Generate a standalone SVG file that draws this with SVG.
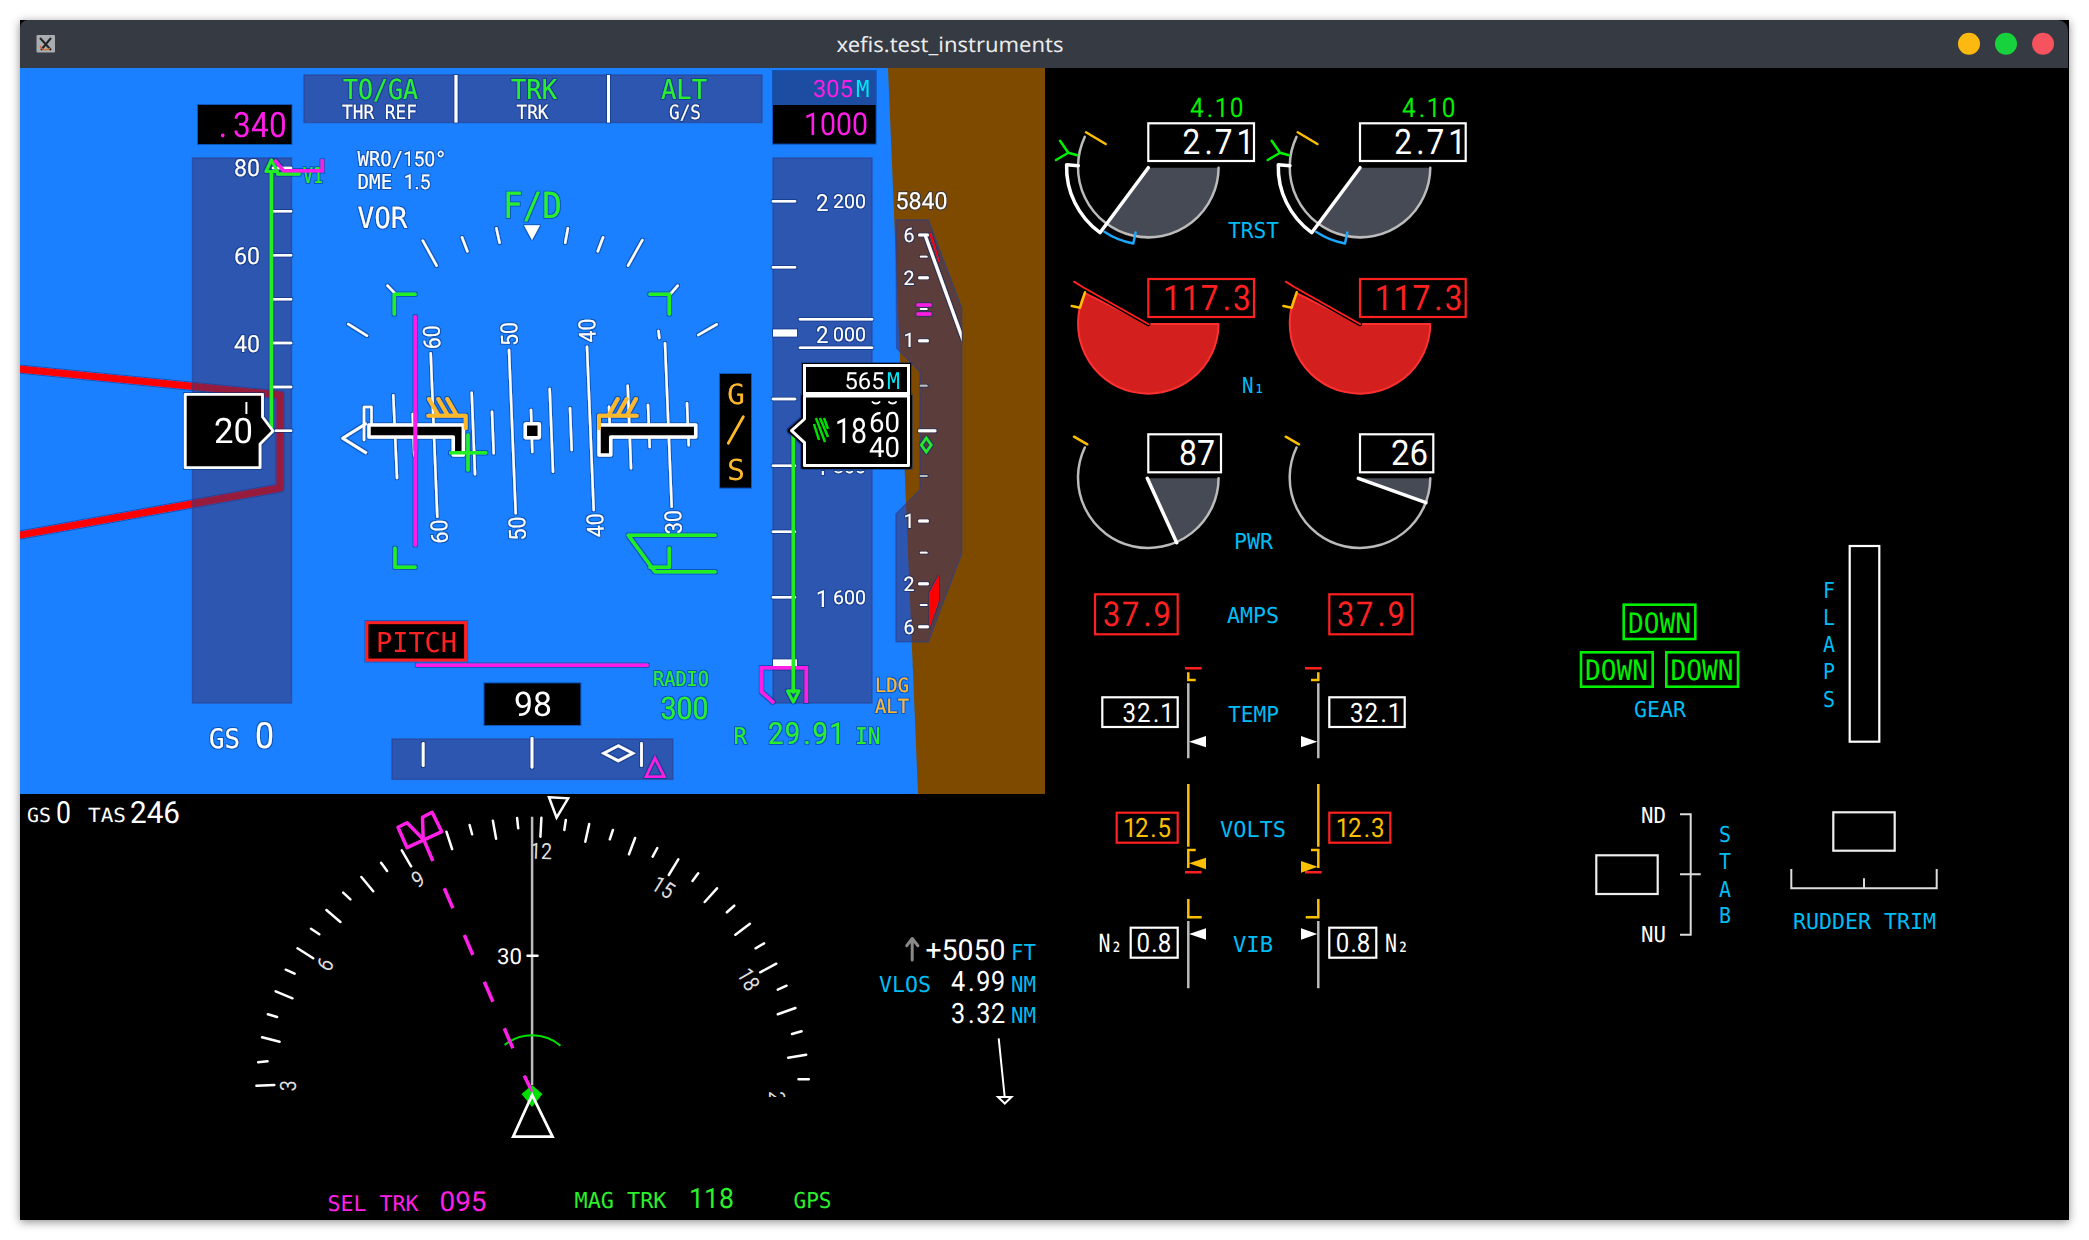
<svg xmlns="http://www.w3.org/2000/svg" width="2089" height="1240" viewBox="0 0 2089 1240">
<defs>
<style>
svg{font-family:"DejaVu Sans Mono","Liberation Mono",monospace}
text{text-rendering:geometricPrecision}
.n{font-family:Roboto,"Noto Sans",sans-serif}
.w{fill:#fff}.g{fill:#2bf02b}.gb{fill:#00f000}.m{fill:#ff1fe6}.c{fill:#00bdf5}.cy{fill:#00e5f5}.a{fill:#fdb92b}.y{fill:#fdc000}.r{fill:#ff2020}
.l{fill:none;stroke-linecap:round;stroke-linejoin:round}
.lw{stroke:#fff;stroke-width:2.5}.lg{stroke:#22ee22;stroke-width:3.5}.lm{stroke:#ff1fe6;stroke-width:3.5}.la{stroke:#fdb92b;stroke-width:4}
.bw{fill:#000;stroke:#fff;stroke-width:2.2}.br{fill:#000;stroke:#ff2020;stroke-width:2.2}.bg{fill:#000;stroke:#00f000;stroke-width:2.6}
.sq{stroke-linecap:butt;stroke-linejoin:miter}
.gy{stroke:#bbb;stroke-width:2.5}.am{stroke:#fdc000;stroke-width:2.5}.rd{stroke:#ff2020;stroke-width:2.5}
.tape{fill:#3e326e;fill-opacity:.54;stroke:#2a3f90;stroke-opacity:.6;stroke-width:1.5}
</style>
<filter id="shadow" x="-3%" y="-3%" width="106%" height="106%"><feGaussianBlur stdDeviation="5"/></filter>
<filter id="halo" filterUnits="userSpaceOnUse" x="20" y="68" width="1025" height="726">
<feMorphology in="SourceAlpha" operator="dilate" radius="1" result="d"/>
<feFlood flood-color="#0a2a70" flood-opacity=".5"/>
<feComposite in2="d" operator="in" result="e"/>
<feMerge><feMergeNode in="e"/><feMergeNode in="SourceGraphic"/></feMerge>
</filter>
<clipPath id="adi"><rect x="20" y="68" width="1025" height="726"/></clipPath>
<clipPath id="vsi"><rect x="890" y="215" width="71.7" height="430"/></clipPath>
<clipPath id="c21"><rect x="760" y="1080" width="40" height="17"/></clipPath>
<clipPath id="c30"><rect x="655" y="500" width="40" height="33.5"/></clipPath>
<clipPath id="c18"><rect x="810" y="471" width="62" height="6"/></clipPath>
</defs>

<g id="window">
<rect x="20" y="22" width="2049" height="1200" fill="#000" fill-opacity=".45" filter="url(#shadow)"/>
<rect x="20" y="20" width="2049" height="1200" fill="#000"/>
<path d="M20 68V28a8 8 0 0 1 8-8H2058a10 10 0 0 1 10 10V68Z" fill="#363a42"/>
<rect x="36.5" y="35" width="18.5" height="17.5" rx="1" fill="#a9acb0"/>
<path d="M40 38L51 50M51 38L41 50" stroke="#222" stroke-width="2" fill="none"/>
<path d="M40 46a6 6 0 0 0 10 2" stroke="#d9662a" stroke-width="1.2" fill="none"/>
<text x="836.5" y="52" style="font-family:'Noto Sans',sans-serif" font-size="21" fill="#e9eaec" textLength="227" lengthAdjust="spacingAndGlyphs">xefis.test_instruments</text>
<circle cx="1969" cy="43.7" r="11" fill="#fdb90f"/><circle cx="2006" cy="43.7" r="11" fill="#17d13d"/><circle cx="2043" cy="43.7" r="11" fill="#f7535f"/>
</g>

<g id="adi-background">
<rect x="20" y="68" width="1025" height="726" fill="#1a80ff"/>
<path d="M888 68H1045V794H918Z" fill="#7d4a00"/>
<g filter="url(#halo)" clip-path="url(#adi)"><path d="M15 368.500L280 395V488L15 536" class="l" stroke="#ff0000" stroke-width="7"/></g>
<rect class="tape" x="192.500" y="158" width="99" height="545"/>
<rect class="tape" x="773" y="158" width="99" height="545"/>
<rect class="tape" x="304" y="75" width="458" height="47.500"/>
<rect class="tape" x="392" y="739" width="280.800" height="40.300"/>
<path class="tape" d="M896 220H928.300L961.700 308.300V553.300L928.300 641.700H896V514L920 490V371.700L896.700 348.300Z"/>
</g>

<g filter="url(#halo)" clip-path="url(#adi)">
<g id="fma">
<path class="l sq" d="M456 75V122.500M608.500 75V122.500" stroke="#fff" stroke-width="3"/>
<text class="g" x="343" y="99" font-size="27.500" textLength="75" lengthAdjust="spacingAndGlyphs">TO/GA</text>
<text class="g" x="511" y="99" font-size="27.500" textLength="46" lengthAdjust="spacingAndGlyphs">TRK</text>
<text class="g" x="661" y="99" font-size="27.500" textLength="46" lengthAdjust="spacingAndGlyphs">ALT</text>
<text class="w" x="342" y="119" font-size="19.500" textLength="75" lengthAdjust="spacingAndGlyphs">THR REF</text>
<text class="w" x="516.500" y="119" font-size="19.500" textLength="32" lengthAdjust="spacingAndGlyphs">TRK</text>
<text class="w" x="669" y="119" font-size="19.500" textLength="32" lengthAdjust="spacingAndGlyphs">G/S</text>
</g>
<g id="mach"><rect x="198" y="105" width="93.500" height="39" fill="#000"/>
<text class="m n" transform="translate(233 136.700) scale(.9 1)" font-size="35" x="-15.800 0 20 40">.340</text></g>

<g id="nav-info">
<text class="w" x="357.500" y="165.700" font-size="20.500" textLength="89" lengthAdjust="spacingAndGlyphs">WRO/<tspan class="n">150</tspan>°</text>
<text class="w" x="357.500" y="189.300" font-size="20.500" textLength="73" lengthAdjust="spacingAndGlyphs">DME <tspan class="n">1.5</tspan></text>
<text class="w" x="357.500" y="227.700" font-size="29" textLength="50" lengthAdjust="spacingAndGlyphs">VOR</text>
<text class="g" x="503" y="218.300" font-size="36" textLength="59" lengthAdjust="spacingAndGlyphs">F/D</text>
</g>

<g id="speed-tape">
<path class="l lw" d="M273 168H291M273 211.300H291M273 255.300H291M273 299.300H291M273 343H291M273 387H291M276 430.700H291"/>
<text class="w n" x="234" y="175.700" font-size="23.500" textLength="26" lengthAdjust="spacingAndGlyphs">80</text>
<text class="w n" x="234" y="264" font-size="23.500" textLength="26" lengthAdjust="spacingAndGlyphs">60</text>
<text class="w n" x="234" y="351.700" font-size="23.500" textLength="26" lengthAdjust="spacingAndGlyphs">40</text>
<path class="l" d="M271.400 172V428" stroke="#22ee22" stroke-width="3.500"/>
<path class="l" d="M266 171.500L271.400 160L277.500 171.500Z" stroke="#22ee22" stroke-width="3"/>
<path class="l" d="M277.700 174H299" stroke="#22ee22" stroke-width="3.500"/>
<text x="303" y="182.700" font-size="22" class="g" textLength="20" lengthAdjust="spacingAndGlyphs">V1</text>
<path class="l lm sq" d="M274.600 160L283.500 170.700H322.300V159.300"/>
<path d="M185.300 394.300H262.500V417L273 431L260 444V467.700H185.300Z" fill="#000" stroke="#fff" stroke-width="2.800" stroke-linejoin="round"/>
<path d="M246.400 402V414" stroke="#fff" stroke-width="2"/>
<text class="w n" x="214" y="443.300" font-size="35" textLength="39" lengthAdjust="spacingAndGlyphs">20</text>
<text class="w" x="209" y="748.300" font-size="27" textLength="31" lengthAdjust="spacingAndGlyphs">GS</text>
<text class="w n" x="255" y="748.300" font-size="36" textLength="19" lengthAdjust="spacingAndGlyphs">0</text>
</g>

<g id="pitch-ladder">
<path class="l lw" d="M430.700 353.300L437.300 516.700M509 350L515.700 513.300M587 346.700L593.700 510M665 343.300L671.700 506.700M471.700 392.700L475 474.300M549.700 389L553 471.700M627.700 385.700L631 468.300M393.300 395.300L397 478M492 411.700L493.700 453.300M570 408.300L571.700 450M648 405L649.700 447M687 403.300L688.700 445.300M531 410L532.300 452M609 406.700L610.700 448M412.700 414L414.300 455.700M658.500 331L659.300 338"/>
<g font-size="23.500" class="w n" text-anchor="middle">
<text transform="translate(431.700 337.300) rotate(-92.300)" y="8.300" textLength="24" lengthAdjust="spacingAndGlyphs">60</text>
<text transform="translate(509.300 334) rotate(-92.300)" y="8.300" textLength="24" lengthAdjust="spacingAndGlyphs">50</text>
<text transform="translate(587.300 330.700) rotate(-92.300)" y="8.300" textLength="24" lengthAdjust="spacingAndGlyphs">40</text>
<text transform="translate(439.300 531.700) rotate(-92.300)" y="8.300" textLength="24" lengthAdjust="spacingAndGlyphs">60</text>
<text transform="translate(517.300 528.700) rotate(-92.300)" y="8.300" textLength="24" lengthAdjust="spacingAndGlyphs">50</text>
<text transform="translate(595.300 525.300) rotate(-92.300)" y="8.300" textLength="24" lengthAdjust="spacingAndGlyphs">40</text>
<g clip-path="url(#c30)"><text transform="translate(673.300 522) rotate(-92.300)" y="8.300" textLength="24" lengthAdjust="spacingAndGlyphs">30</text></g>
</g>
</g>

<g id="bank-scale">
<path class="l lw" d="M422.800 240.700L436.600 265.700M462 237.300L467.400 251.300M496.400 228.300L499.600 242.700M567.900 228.300L565.200 242.700M603.100 237.300L597.800 251.300M642.400 240L628.100 265.700M387.500 285.700L395 293.300M677.700 285.700L671 293.300M348.200 324L367 335.700M698.300 335L716.700 324.300"/>
<path d="M524 225.300H540L532 240Z" fill="#fff"/>
</g>

<g id="flight-director" class="l">
<path class="lg" d="M394.300 314V294.300H415M669.300 314V294.300H650M395 548.300V567.300H415M669.300 548.300V567.300H650"/>
<path class="lm" stroke-width="4" d="M415.300 316.700V545M417.400 665.300H647"/>
<path class="lg" stroke-width="3" d="M715 535.300H628.300L655 571.700H715"/>
</g>

<g id="aircraft-symbol">
<path class="l" d="M364 440V407H371.500V423" stroke="#fff" stroke-width="2.500"/>
<path d="M366.700 423.300L342.700 438.300L366.700 453.300" fill="none" stroke="#fff" stroke-width="2.800" stroke-linejoin="round"/>
<path d="M369 425H463.300V455H453.300V437H369Z" fill="#000" stroke="#fff" stroke-width="3.500" stroke-linejoin="round"/>
<path d="M599 425H695.700V437H610.700V455H599Z" fill="#000" stroke="#fff" stroke-width="3.500" stroke-linejoin="round"/>
<rect x="525.300" y="423.700" width="14" height="14" fill="#000" stroke="#fff" stroke-width="3.500" rx="1"/>
<path class="l" stroke="#ff1fe6" stroke-width="4" d="M415.300 414V450"/>
<path class="l la" d="M428.300 415.700H465.700V428.300M429 399L438.700 415.700M438.300 399L448 415.700M447.300 399L457 415.700M636.700 415.700H599V428.300M608.300 415.700L617.700 399M617.300 415.700L626.700 399M626.700 415.700L636 399"/>
<path class="l lg" d="M450.700 452.700H485.700M468 435V470"/>
</g>

<g id="pitch-limit">
<rect x="367" y="622.700" width="98.600" height="37.300" fill="#000" stroke="#ff2020" stroke-width="3"/>
<text class="r" x="376" y="651.700" font-size="27.500" textLength="81" lengthAdjust="spacingAndGlyphs">PITCH</text>
</g>
<g id="mach-bottom"><rect x="484.400" y="683.300" width="96" height="41.700" fill="#000"/>
<text class="w n" x="514" y="716" font-size="34" textLength="38" lengthAdjust="spacingAndGlyphs">98</text></g>
<g id="radio"><text class="g" x="653" y="685.700" font-size="20.500" textLength="56" lengthAdjust="spacingAndGlyphs">RADIO</text>
<text class="g n" x="660.500" y="719.300" font-size="31" textLength="48" lengthAdjust="spacingAndGlyphs">300</text></g>
<g id="lateral-bar">
<path class="l" stroke="#fff" stroke-width="2.800" d="M423.200 743.300V765.700M532 738.300V767.300M641.500 743.300V765.700"/>
<path d="M618.300 745.800L632.800 753.300L618.300 760.800L603.800 753.300Z" fill="none" stroke="#fff" stroke-width="2.800"/>
<path d="M655 758L646 776.700H664.300Z" fill="none" stroke="#ff1fe6" stroke-width="2.500"/>
</g>

<g id="gs-flag"><rect x="720" y="374" width="31" height="113.700" fill="#000"/>
<text class="a" x="727" y="404" font-size="28" textLength="18" lengthAdjust="spacingAndGlyphs">G</text>
<path d="M728.300 443.300L743.300 416.700" stroke="#fdb92b" stroke-width="2.800" stroke-linecap="round"/>
<text class="a" x="727" y="480" font-size="29" textLength="18" lengthAdjust="spacingAndGlyphs">S</text></g>

<g id="altitude-tape">
<rect x="773" y="71" width="102.700" height="34" fill="#1f4da3"/>
<text class="m n" x="813" y="97.300" font-size="24" textLength="40" lengthAdjust="spacingAndGlyphs">305</text>
<text class="cy" x="856" y="97.300" font-size="23.500" textLength="13.500" lengthAdjust="spacingAndGlyphs">M</text>
<rect x="773" y="105" width="102.700" height="38.700" fill="#000"/>
<text class="m n" x="804" y="135" font-size="31.500" textLength="64" lengthAdjust="spacingAndGlyphs">1000</text>
<path class="l lw" d="M773 201.300H795M773 267.300H795M773 399H795M773 465.700H795M773 531.700H795M773 597.300H795M800 319.300H872M800 347.700H872"/>
<path d="M773 329.500H797V336.500H773ZM773 659.500H797V666.500H773Z" fill="#fff"/>
<g class="w n">
<text x="816" y="210.700" font-size="23.500" textLength="12.500" lengthAdjust="spacingAndGlyphs">2</text><text x="833" y="208.300" font-size="19" textLength="33" lengthAdjust="spacingAndGlyphs">200</text>
<text x="816" y="342.700" font-size="23.500" textLength="12.500" lengthAdjust="spacingAndGlyphs">2</text><text x="833" y="340.700" font-size="19" textLength="33" lengthAdjust="spacingAndGlyphs">000</text>
<text x="816" y="606.700" font-size="23.500" textLength="12.500" lengthAdjust="spacingAndGlyphs">1</text><text x="833" y="604" font-size="19" textLength="33" lengthAdjust="spacingAndGlyphs">600</text>
<g clip-path="url(#c18)"><text x="816" y="474.700" font-size="23.500" textLength="12.500" lengthAdjust="spacingAndGlyphs">1</text><text x="833" y="473" font-size="19" textLength="33" lengthAdjust="spacingAndGlyphs">800</text></g>
</g>
<path class="lm sq l" stroke-width="3" d="M806.300 703V667.700H761.500V691.700L774 703"/>
<path class="l" stroke="#22ee22" stroke-width="3.500" d="M793.300 433V692"/>
<path class="l" stroke="#22ee22" stroke-width="2.800" d="M787.500 691H799L793.300 702Z"/>
<text class="a" x="875" y="691.700" font-size="19.500" textLength="34" lengthAdjust="spacingAndGlyphs">LDG</text>
<text class="a" x="875" y="713.300" font-size="19.500" textLength="34" lengthAdjust="spacingAndGlyphs">ALT</text>
<text class="g" x="733.500" y="744.300" font-size="23" textLength="13.500" lengthAdjust="spacingAndGlyphs">R</text>
<text class="g n" transform="translate(768 744.300) scale(.9 1)" font-size="30.500" x="0 18.500 39.500 49.500 68">29.91</text>
<text class="g" x="855" y="744.300" font-size="23" textLength="25.500" lengthAdjust="spacingAndGlyphs">IN</text>
<text class="w n" x="895.500" y="209.300" font-size="23.500" textLength="52" lengthAdjust="spacingAndGlyphs">5840</text>
</g>

<g id="vsi">
<g clip-path="url(#vsi)">
<path class="l" stroke="#fff" stroke-width="3.200" d="M925.700 236.700L963 340"/>
</g>
<path class="l" stroke="#fff" stroke-width="3" d="M919.500 235H927.500M919.500 277.700H927.500M919.500 340.700H927.500M919.500 430.700H935M919.500 521H927.500M919.500 583.700H927.500M919.500 626.700H927.500"/>
<path class="l" stroke="#fff" stroke-width="1.800" d="M920.700 256.700H926.700M920.700 309H926.700M920.700 552.700H926.700M920.700 605H926.700"/>
<path class="l" stroke="#bbb" stroke-width="2" d="M920.700 385.700H926.700M920.700 476H926.700"/>
<path class="l lm" stroke-width="3" d="M918 305H930M918 314H930"/>
<path d="M926.300 438L931.300 445L926.300 452L921.300 445Z" fill="none" stroke="#22ee22" stroke-width="2.500"/>
<path d="M929 233L931.500 233.500L939.700 262L938.500 262Z" fill="#ff0000"/>
<path d="M939 575V600L929.300 628.300V593.300Z" fill="#ff0000"/>
<g class="w n" font-size="20" text-anchor="middle">
<text x="909" y="241.700" textLength="11" lengthAdjust="spacingAndGlyphs">6</text>
<text x="909" y="285" textLength="11" lengthAdjust="spacingAndGlyphs">2</text>
<text x="909" y="347.300" textLength="11" lengthAdjust="spacingAndGlyphs">1</text>
<text x="909" y="528.300" textLength="11" lengthAdjust="spacingAndGlyphs">1</text>
<text x="909" y="591" textLength="11" lengthAdjust="spacingAndGlyphs">2</text>
<text x="909" y="634" textLength="11" lengthAdjust="spacingAndGlyphs">6</text>
</g>
</g>

<g id="altitude-box">
<path d="M790 430.700L803.500 419V396.500H909.500V466.500H803.500V442.700Z" fill="#000" stroke="#000" stroke-width="5" stroke-linejoin="round"/>
<rect x="803.500" y="364.500" width="106" height="30" fill="#000" stroke="#000" stroke-width="3"/>
<rect x="804.500" y="365.500" width="104" height="28" fill="#000" stroke="#fff" stroke-width="3"/>
<path d="M791.500 430.700L804.500 419V396H908.500V465.500H804.500V442.700Z" fill="#000" stroke="#fff" stroke-width="3" stroke-linejoin="round"/>
<text class="w n" x="844.500" y="389.300" font-size="23.500" textLength="40" lengthAdjust="spacingAndGlyphs">565</text>
<text class="cy" x="887" y="389.300" font-size="23" textLength="13" lengthAdjust="spacingAndGlyphs">M</text>
<text class="w n" x="835" y="443.300" font-size="35" textLength="32" lengthAdjust="spacingAndGlyphs">18</text>
<text class="w n" x="869" y="431.700" font-size="28" textLength="31" lengthAdjust="spacingAndGlyphs">60</text>
<text class="w n" x="869" y="457.300" font-size="28" textLength="31" lengthAdjust="spacingAndGlyphs">40</text>
<path class="l" stroke="#fff" stroke-width="2" d="M872.500 402a4 3 0 0 0 7 0M889 402a4 3 0 0 0 7 0"/>
<path stroke="#00e000" stroke-width="2.500" fill="none" d="M814 424L819 440M816 418L825 442M820 418L828 437M824 418L828 429"/>
</g>
</g>

<g id="hsi">
<g id="hsi-readout">
<text class="w" x="27" y="821.700" font-size="19.500" textLength="24" lengthAdjust="spacingAndGlyphs">GS</text>
<text class="w n" x="56" y="822.700" font-size="30.500" textLength="15" lengthAdjust="spacingAndGlyphs">0</text>
<text class="w" x="88" y="821.700" font-size="19.500" textLength="38" lengthAdjust="spacingAndGlyphs">TAS</text>
<text class="w n" x="130" y="822.700" font-size="30.500" textLength="50" lengthAdjust="spacingAndGlyphs">246</text>
</g>
<g id="compass">
<path class="l lw" stroke-width="2.300" d="M256.400 1085.700L274.300 1085M258.200 1062.300L267.500 1061.300M262.100 1037.300L279.600 1041.700M267.900 1014.300L277.100 1017M275.700 991.300L292.500 998.300M285.700 969.700L294.600 973.700M297.500 948.300L313.200 958.300M311 928.700L319.300 934.300M326.400 910L340.400 922M343.200 892.700L350.400 899.300M361.400 877L373.200 891.300M381.100 862.700L387.100 871M401.800 850.300L411.100 866.300M446.400 831.700L452.100 849M469.600 825L472.100 834.300M492.900 820.700L496.100 838.700M517.100 818L518.200 828.300M541.400 817.700L540.400 836.700M565.800 820L564.300 830M589.200 824L585.300 841.700M612.900 830L609.800 839.300M635.100 838L629 854.300M657.300 848L652.700 856.700M678.300 859.300L668.800 875M698.200 873.300L692.500 881M717 888.300L704.700 902M734.200 905.700L726.900 912.300M749.900 923.700L735.400 934.700M764.100 943.300L755.600 948.300M776.300 963.700L760.200 972.300M786.600 985.700L777.800 989.700M795.400 1008L777.800 1014.300M801.600 1031.300L792 1034M806.200 1054.700L788.200 1057.700M808.800 1079.300L798.500 1079.300"/>
<g font-size="22.500" fill="#ddd" class="n" text-anchor="middle">
<text transform="translate(287.900 1085.700) rotate(-88)" y="8" textLength="11" lengthAdjust="spacingAndGlyphs">3</text>
<text transform="translate(325 964.300) rotate(-60)" y="8" textLength="11" lengthAdjust="spacingAndGlyphs">6</text>
<text transform="translate(417.900 879) rotate(-28)" y="8" textLength="11" lengthAdjust="spacingAndGlyphs">9</text>
<text transform="translate(541 851) rotate(2)" y="8" textLength="22" lengthAdjust="spacingAndGlyphs">12</text>
<text transform="translate(663.400 887.300) rotate(32)" y="8" textLength="22" lengthAdjust="spacingAndGlyphs">15</text>
<text transform="translate(748.800 979.300) rotate(60)" y="8" textLength="22" lengthAdjust="spacingAndGlyphs">18</text>
<g clip-path="url(#c21)"><text transform="translate(777 1102) rotate(90)" y="8" textLength="22" lengthAdjust="spacingAndGlyphs">21</text></g>
</g>
<path d="M549 797.300L568.100 798.300L556.600 817.700Z" fill="#000" stroke="#fff" stroke-width="2.500"/>
</g>
<g id="hsi-track">
<path d="M532.100 816.700V1085" stroke="#bbb" stroke-width="2.500"/>
<path class="l" stroke="#fff" stroke-width="2.500" d="M527.500 955.700H537.500"/>
<text class="w n" x="497" y="964" font-size="22" textLength="25" lengthAdjust="spacingAndGlyphs">30</text>
<path d="M504.600 1045A44 44 0 0 1 560.500 1045.700" fill="none" stroke="#00e000" stroke-width="2"/>
<path class="lm sq l" stroke-width="2.500" d="M524.300 1075.700L532.100 1091.700M504.300 1028.300L512.900 1048.300M484.300 981.700L492.900 1001.700M464.300 935L472.900 955M444.300 888.300L452.900 908.300M424.300 841L432.900 861"/>
<path class="l lm" stroke-width="3" d="M398 827.300L407.100 822.700L423.200 839.300L422.500 817.300L432.100 812.300L441.800 831.700L407.100 847.700Z"/>
<path d="M521.500 1094L532 1085L542.500 1094L532 1107Z" fill="#00e000"/>
<path d="M524.300 1075.700L532.100 1091.700" stroke="#ff1fe6" stroke-width="2.500"/>
<path d="M532.100 1095L513.200 1136.700H552.500Z" fill="none" stroke="#fff" stroke-width="2.800"/>
</g>
<g id="hsi-vlos">
<path class="l" stroke="#888" stroke-width="3" d="M912.200 960V940M906.800 945.700L912.200 938.500L917.900 945.700"/>
<text class="w n" x="925.500" y="960" font-size="29" textLength="80" lengthAdjust="spacingAndGlyphs">+5050</text>
<text class="c" x="1011" y="960" font-size="22" textLength="25" lengthAdjust="spacingAndGlyphs">FT</text>
<text class="c" x="879" y="991.700" font-size="22" textLength="52" lengthAdjust="spacingAndGlyphs">VLOS</text>
<text class="w n" transform="translate(951 991) scale(.9 1)" font-size="28" x="0 19 28 44.500">4.99</text>
<text class="c" x="1011" y="991.700" font-size="22" textLength="25" lengthAdjust="spacingAndGlyphs">NM</text>
<text class="w n" transform="translate(951 1023.300) scale(.9 1)" font-size="28" x="0 19 28 44.500">3.32</text>
<text class="c" x="1011" y="1023.300" font-size="22" textLength="25" lengthAdjust="spacingAndGlyphs">NM</text>
<path d="M998.700 1038.300L1004.800 1098" stroke="#fff" stroke-width="2"/>
<path d="M998 1097H1011.500L1004.800 1103.500Z" fill="#000" stroke="#fff" stroke-width="2"/>
</g>
<g id="hsi-bottom">
<text class="m" x="327.500" y="1210.700" font-size="21.500" textLength="91" lengthAdjust="spacingAndGlyphs">SEL TRK</text>
<text class="m n" x="439.500" y="1210.700" font-size="27.500" textLength="47" lengthAdjust="spacingAndGlyphs">095</text>
<text class="g" x="574.500" y="1208.300" font-size="22" textLength="92" lengthAdjust="spacingAndGlyphs">MAG TRK</text>
<text class="g n" x="689" y="1208.300" font-size="28" textLength="45" lengthAdjust="spacingAndGlyphs">118</text>
<text class="g" x="793.500" y="1208.300" font-size="22" textLength="38" lengthAdjust="spacingAndGlyphs">GPS</text>
</g>
</g>

<g id="trst-left" transform="translate(1148.300 167.700)">
<path d="M0 0H70.300A70.300 70.300 0 0 1 -42 56.500Z" fill="#464a55"/>
<path class="l gy" stroke-width="2" d="M70.300 0A70.300 70.300 0 1 1 -63.500 -30.800"/>
<path class="l" stroke="#fff" stroke-width="3.500" d="M0 0L-48.300 65A81 81 0 0 1 -81.700 -3L-70 -2"/>
<path class="l" stroke="#1ea7ff" stroke-width="2.500" d="M-44 64A77 77 0 0 0 -15 75.700L-12.700 64.700"/>
<path class="l" stroke="#fdc000" stroke-width="2.500" d="M-62.300 -35.400L-42.600 -23.700"/>
<path class="l" stroke="#00f000" stroke-width="2.500" d="M-88.300 -27L-80 -15L-92.300 -7.700M-80 -15L-71 -12.400"/>
</g>
<g id="trst-right" transform="translate(1360 167.700)">
<path d="M0 0H70.300A70.300 70.300 0 0 1 -42 56.500Z" fill="#464a55"/>
<path class="l gy" stroke-width="2" d="M70.300 0A70.300 70.300 0 1 1 -63.500 -30.800"/>
<path class="l" stroke="#fff" stroke-width="3.500" d="M0 0L-48.300 65A81 81 0 0 1 -81.700 -3L-70 -2"/>
<path class="l" stroke="#1ea7ff" stroke-width="2.500" d="M-44 64A77 77 0 0 0 -15 75.700L-12.700 64.700"/>
<path class="l" stroke="#fdc000" stroke-width="2.500" d="M-62.300 -35.400L-42.600 -23.700"/>
<path class="l" stroke="#00f000" stroke-width="2.500" d="M-88.300 -27L-80 -15L-92.300 -7.700M-80 -15L-71 -12.400"/>
</g>
<g id="trst-readouts">
<text class="gb n" transform="translate(1190 116.700) scale(.9 1)" font-size="27" x="0 18.700 27.600 44.100">4.10</text>
<text class="gb n" transform="translate(1402 116.700) scale(.9 1)" font-size="27" x="0 18.700 27.600 44.100">4.10</text>
<rect class="bw" x="1148.300" y="123.300" width="105.700" height="37.700"/>
<rect class="bw" x="1360" y="123.300" width="105.700" height="37.700"/>
<text class="w n" transform="translate(1182.600 154) scale(.9 1)" font-size="35" x="0 24.300 35.800 60">2.71</text>
<text class="w n" transform="translate(1394.300 154) scale(.9 1)" font-size="35" x="0 24.300 35.800 60">2.71</text>
<text class="c" x="1228" y="237.700" font-size="22" textLength="51" lengthAdjust="spacingAndGlyphs">TRST</text>
</g>

<g id="n1-left" transform="translate(1148.300 324)">
<path d="M0 0H70.300A70.300 70.300 0 1 1 -63.500 -30.800Z" fill="#d41f1f" stroke="#ff3030" stroke-width="2" stroke-linejoin="round"/>
<path class="l" stroke="#000" stroke-width="4.500" d="M0 0L-63 -35.500"/>
<path class="l" stroke="#ff2020" stroke-width="2" d="M0 0L-63 -35.500M-64 -36L-74.300 -42.300"/>
<path class="l" stroke="#fdc000" stroke-width="2.500" d="M-63.300 -31.700L-68.300 -16.300L-76.600 -18"/>
</g>
<g id="n1-right" transform="translate(1360 324)">
<path d="M0 0H70.300A70.300 70.300 0 1 1 -63.500 -30.800Z" fill="#d41f1f" stroke="#ff3030" stroke-width="2" stroke-linejoin="round"/>
<path class="l" stroke="#000" stroke-width="4.500" d="M0 0L-63 -35.500"/>
<path class="l" stroke="#ff2020" stroke-width="2" d="M0 0L-63 -35.500M-64 -36L-74.300 -42.300"/>
<path class="l" stroke="#fdc000" stroke-width="2.500" d="M-63.300 -31.700L-68.300 -16.300L-76.600 -18"/>
</g>
<g id="n1-readouts">
<rect class="br" x="1148.300" y="279" width="105.700" height="38"/>
<rect class="br" x="1360" y="279" width="105.700" height="38"/>
<text class="r n" transform="translate(1163 310) scale(.9 1)" font-size="35" x="0 21 42 66.300 77.800">117.3</text>
<text class="r n" transform="translate(1374.700 310) scale(.9 1)" font-size="35" x="0 21 42 66.300 77.800">117.3</text>
<text class="c" x="1242" y="393.300" font-size="22" textLength="23" lengthAdjust="spacingAndGlyphs">N₁</text>
</g>

<g id="pwr-left" transform="translate(1148.300 478.300)">
<path d="M0 0H70.300A70.300 70.300 0 0 1 29.400 64Z" fill="#464a55"/>
<path class="l gy" stroke-width="2" d="M70.300 0A70.300 70.300 0 1 1 -63.500 -30.800"/>
<path class="l" stroke="#fff" stroke-width="3.500" d="M-1 0L28.400 64.400"/>
<path class="l" stroke="#fdc000" stroke-width="2.500" d="M-74.300 -41.600L-61 -34"/>
</g>
<g id="pwr-right" transform="translate(1360 478.300)">
<path d="M0 0H70.300A70.300 70.300 0 0 1 66 24.200Z" fill="#464a55"/>
<path class="l gy" stroke-width="2" d="M70.300 0A70.300 70.300 0 1 1 -63.500 -30.800"/>
<path class="l" stroke="#fff" stroke-width="3.500" d="M-1.700 0L66 24.400"/>
<path class="l" stroke="#fdc000" stroke-width="2.500" d="M-74.300 -41.600L-61 -34"/>
</g>
<g id="pwr-readouts">
<rect class="bw" x="1148.300" y="434.300" width="72.700" height="38"/>
<rect class="bw" x="1360" y="434.300" width="73.300" height="38"/>
<text class="w n" x="1179" y="465" font-size="35" textLength="36" lengthAdjust="spacingAndGlyphs">87</text>
<text class="w n" x="1391" y="465" font-size="35" textLength="37" lengthAdjust="spacingAndGlyphs">26</text>
<text class="c" x="1234" y="549.300" font-size="22" textLength="39" lengthAdjust="spacingAndGlyphs">PWR</text>
</g>

<g id="amps">
<rect class="br" x="1095" y="594.300" width="82.700" height="40"/>
<rect class="br" x="1329.300" y="594.300" width="83" height="40"/>
<text class="r n" transform="translate(1103 626) scale(.9 1)" font-size="34.200" x="0 21 45 56">37.9</text>
<text class="r n" transform="translate(1337 626) scale(.9 1)" font-size="34.200" x="0 21 45 56">37.9</text>
<text class="c" x="1227" y="623.300" font-size="22" textLength="52" lengthAdjust="spacingAndGlyphs">AMPS</text>
</g>

<g id="temp">
<path class="sq l rd" d="M1185 668.300H1201.700M1305 668.300H1321.700"/>
<path class="sq l am" d="M1188.300 672.300V680H1195.700M1318.300 672.300V680H1311"/>
<path class="sq l gy" d="M1188.300 683.300V758.300M1318.300 683.300V758.300"/>
<path d="M1189 741.700L1206 736V747.300Z" fill="#fff"/>
<path d="M1317.300 741.700L1301 736V747.300Z" fill="#fff"/>
<rect class="bw" x="1102.300" y="697.300" width="75.400" height="29.700"/>
<rect class="bw" x="1329.300" y="697.300" width="75.400" height="29.700"/>
<text class="w n" transform="translate(1122.500 721.700) scale(.9 1)" font-size="26.700" x="0 16 34 42">32.1</text>
<text class="w n" transform="translate(1350 721.700) scale(.9 1)" font-size="26.700" x="0 16 34 42">32.1</text>
<text class="c" x="1228" y="721.700" font-size="22" textLength="51" lengthAdjust="spacingAndGlyphs">TEMP</text>
</g>

<g id="volts">
<path class="sq l am" d="M1188.300 784V846.700M1318.300 784V846.700M1195.700 850H1188.300V868M1311 850H1318.300V868"/>
<path class="sq l rd" d="M1185 872.300H1201.700M1305 872.300H1321.700"/>
<path d="M1189 863.300L1206 857.700V869.300Z" fill="#fdc000"/>
<path d="M1317.700 866.700L1301 861V872.700Z" fill="#fdc000"/>
<rect class="br" x="1116.700" y="812.700" width="61" height="30"/>
<rect class="br" x="1329.300" y="812.700" width="61" height="30"/>
<text class="y n" transform="translate(1123.300 836.700) scale(.9 1)" font-size="26.700" x="0 13 30 38">12.5</text>
<text class="y n" transform="translate(1335.800 836.700) scale(.9 1)" font-size="26.700" x="0 13.500 31 39">12.3</text>
<text class="c" x="1220" y="836.700" font-size="22" textLength="66" lengthAdjust="spacingAndGlyphs">VOLTS</text>
</g>

<g id="vib">
<path class="sq l am" d="M1188.300 899V917.300H1201.700M1318.300 899V917.300H1305.700"/>
<path class="sq l gy" d="M1188.300 921V988.300M1318.300 921V988.300"/>
<path d="M1189 934L1206 928.300V939.700Z" fill="#fff"/>
<path d="M1317.300 934L1301 928.300V939.700Z" fill="#fff"/>
<rect class="bw" x="1130.700" y="927.700" width="47" height="30"/>
<rect class="bw" x="1329.300" y="927.700" width="47" height="30"/>
<text class="w n" transform="translate(1136.500 951.700) scale(.9 1)" font-size="26.700" x="0 16.500 23.500">0.8</text>
<text class="w n" transform="translate(1335.700 951.700) scale(.9 1)" font-size="26.700" x="0 16.500 23.500">0.8</text>
<text class="w" x="1098.500" y="951.700" font-size="25" textLength="24" lengthAdjust="spacingAndGlyphs">N₂</text>
<text class="w" x="1385" y="951.700" font-size="25" textLength="24" lengthAdjust="spacingAndGlyphs">N₂</text>
<text class="c" x="1233" y="951.700" font-size="22" textLength="40" lengthAdjust="spacingAndGlyphs">VIB</text>
</g>

<g id="gear">
<rect class="bg" x="1623.700" y="604.700" width="71.600" height="34.300"/>
<rect class="bg" x="1581" y="652.300" width="71.700" height="34.400"/>
<rect class="bg" x="1666.300" y="652.300" width="71.700" height="34.400"/>
<text class="gb" x="1628" y="632.700" font-size="28" textLength="63" lengthAdjust="spacingAndGlyphs">DOWN</text>
<text class="gb" x="1585" y="680" font-size="28" textLength="63" lengthAdjust="spacingAndGlyphs">DOWN</text>
<text class="gb" x="1670.500" y="680" font-size="28" textLength="63" lengthAdjust="spacingAndGlyphs">DOWN</text>
<text class="c" x="1634" y="716.700" font-size="22" textLength="52" lengthAdjust="spacingAndGlyphs">GEAR</text>
</g>

<g id="flaps">
<rect x="1849.700" y="546" width="29.600" height="195.700" fill="none" stroke="#fff" stroke-width="2.200"/>
<g class="c" font-size="22" text-anchor="middle">
<text x="1829" y="598" textLength="12" lengthAdjust="spacingAndGlyphs">F</text>
<text x="1829" y="625" textLength="12" lengthAdjust="spacingAndGlyphs">L</text>
<text x="1829" y="652.300" textLength="12" lengthAdjust="spacingAndGlyphs">A</text>
<text x="1829" y="679.300" textLength="12" lengthAdjust="spacingAndGlyphs">P</text>
<text x="1829" y="706.700" textLength="12" lengthAdjust="spacingAndGlyphs">S</text>
</g>
</g>

<g id="stab">
<rect x="1596.300" y="855.300" width="61.400" height="38.700" fill="none" stroke="#eee" stroke-width="2.200"/>
<path class="sq l" stroke="#ddd" stroke-width="2" d="M1680 814.300H1690.700V934.700H1680M1680 874.300H1700.700"/>
<text class="w" x="1641" y="823.300" font-size="22" textLength="25" lengthAdjust="spacingAndGlyphs">ND</text>
<text class="w" x="1641" y="942.300" font-size="22" textLength="25" lengthAdjust="spacingAndGlyphs">NU</text>
<g class="c" font-size="22" text-anchor="middle">
<text x="1725" y="842.300" textLength="12" lengthAdjust="spacingAndGlyphs">S</text>
<text x="1725" y="869.300" textLength="12" lengthAdjust="spacingAndGlyphs">T</text>
<text x="1725" y="896.700" textLength="12" lengthAdjust="spacingAndGlyphs">A</text>
<text x="1725" y="923.300" textLength="12" lengthAdjust="spacingAndGlyphs">B</text>
</g>
</g>

<g id="rudder-trim">
<rect x="1833.300" y="812.300" width="61.400" height="38.400" fill="none" stroke="#eee" stroke-width="2.200"/>
<path class="sq l" stroke="#ddd" stroke-width="2" d="M1791.300 869V888.300H1936.700V869M1864 878.300V888.300"/>
<text class="c" x="1793" y="929" font-size="22" textLength="143" lengthAdjust="spacingAndGlyphs">RUDDER TRIM</text>
</g>
</svg>
